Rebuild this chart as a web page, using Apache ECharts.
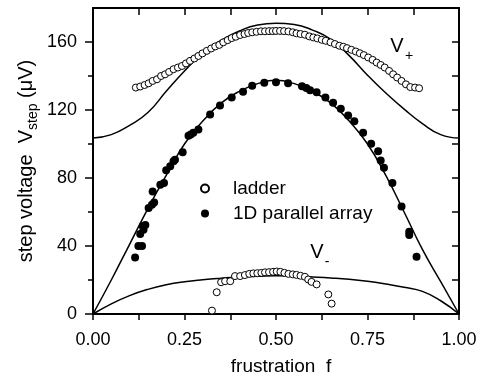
<!DOCTYPE html>
<html>
<head>
<meta charset="utf-8">
<script src="https://cdn.jsdelivr.net/npm/echarts@6.0.0/dist/echarts.min.js"></script>
<style>
  html, body { margin: 0; padding: 0; background: #fff; }
  #chart { width: 496px; height: 376px; }
</style>
</head>
<body>
<div id="chart"></div>
<script>
// 理论曲线的 f 取样点
const fTheory = [0, 0.05, 0.1, 0.15, 0.2, 0.25, 0.3, 0.35, 0.4, 0.45, 0.5,
  0.55, 0.6, 0.65, 0.7, 0.75, 0.8, 0.85, 0.9, 0.95, 1];
const vPlusTheory = [103.5, 105.5, 111, 118.5, 131, 143, 153.5, 161, 166.5, 170, 171,
  170.3, 167, 161.5, 152, 140.5, 130, 120.5, 112, 105.5, 103.5];
const vArrayTheory = [0, 20, 41, 62, 81.5, 100, 113.5, 124, 131, 135.5, 137.5,
  135.5, 131, 124, 113.5, 100, 81.5, 60, 38, 19, 0];
const vMinusTheory = [0, 6, 10.8, 14.5, 17.2, 19, 20.2, 21.1, 21.8, 22.2, 22.5,
  22.3, 21.8, 21.2, 20.4, 19.2, 17.6, 15.7, 13.3, 7.8, 0];

// ladder 测量点 (空心圆)
const ladderUpperF = [0.117, 0.129, 0.141, 0.152, 0.163, 0.175, 0.186, 0.197, 0.208, 0.220,
  0.232, 0.243, 0.254, 0.265, 0.277, 0.288, 0.299, 0.311, 0.323, 0.334, 0.345, 0.356,
  0.368, 0.379, 0.390, 0.402, 0.414, 0.424, 0.435, 0.447, 0.459, 0.470, 0.481, 0.491,
  0.500, 0.511, 0.522, 0.534, 0.546, 0.556, 0.567, 0.579, 0.591, 0.602, 0.613, 0.625,
  0.636, 0.649, 0.661, 0.673, 0.684, 0.694, 0.706, 0.718, 0.729, 0.740, 0.752, 0.764,
  0.775, 0.786, 0.797, 0.809, 0.820, 0.831, 0.843, 0.855, 0.867, 0.880, 0.891];
const ladderUpperV = [133.2, 133.8, 134.7, 135.7, 137.1, 138.1, 140.0, 141.0, 142.4, 144.0,
  145.0, 145.9, 147.4, 148.9, 150.3, 151.8, 153.3, 154.8, 156.2, 157.4, 158.3, 159.8,
  161.1, 162.3, 163.1, 164.1, 164.7, 165.3, 165.7, 166.0, 166.3, 166.3, 166.4, 166.4,
  166.5, 166.5, 166.4, 166.2, 165.7, 165.1, 164.7, 164.3, 163.3, 162.7, 162.1, 161.3,
  160.7, 159.8, 158.8, 157.8, 157.2, 156.4, 155.4, 154.4, 153.4, 152.3, 150.9, 149.5,
  147.9, 146.5, 145.0, 143.0, 141.0, 139.1, 137.1, 135.1, 133.5, 133.2, 132.8];
const ladderLowerF = [0.325, 0.338, 0.350, 0.361, 0.375, 0.388, 0.402, 0.415, 0.427, 0.438,
  0.449, 0.460, 0.470, 0.481, 0.492, 0.502, 0.512, 0.523, 0.534, 0.546, 0.556, 0.567,
  0.579, 0.588, 0.597, 0.611, 0.643, 0.652];
const ladderLowerV = [2.0, 12.8, 18.7, 19.3, 19.3, 22.3, 22.3, 22.9, 23.6, 23.9,
  24.0, 24.2, 24.5, 24.6, 24.8, 25.0, 24.8, 24.2, 23.6, 23.3, 23.0, 22.5,
  21.9, 20.3, 18.9, 17.4, 11.5, 6.1];

// 1D parallel array 测量点 (实心圆)
const arrayF = [0.115, 0.124, 0.134, 0.129, 0.138, 0.136, 0.143, 0.152, 0.161, 0.167,
  0.163, 0.184, 0.194, 0.200, 0.211, 0.220, 0.224, 0.245, 0.261, 0.267, 0.274, 0.288,
  0.320, 0.347, 0.379, 0.410, 0.435, 0.468, 0.500, 0.533, 0.571, 0.583, 0.593, 0.611,
  0.635, 0.656, 0.677, 0.697, 0.714, 0.738, 0.760, 0.779, 0.786, 0.795, 0.818, 0.843,
  0.864, 0.864, 0.884];
const arrayV = [33.3, 40.0, 40.0, 47.1, 49.5, 51.8, 52.4, 62.3, 64.2, 65.6,
  72.1, 76.0, 77.0, 84.5, 86.9, 89.8, 90.8, 95.1, 104.8, 105.6, 106.6, 108.5,
  117.4, 122.7, 127.3, 130.7, 134.3, 136.0, 136.3, 135.7, 134.0, 132.9, 131.6, 130.4,
  127.3, 124.3, 120.8, 116.8, 113.4, 106.6, 100.2, 95.7, 90.3, 86.1, 77.0, 63.2,
  48.4, 46.5, 33.7];

// 刻度
const xTicks = [0, 0.25, 0.5, 0.75, 1];
const yTicks = [0, 40, 80, 120, 160];
const yMinorTicks = [20, 60, 100, 140];

const FONT = "Liberation Sans";
const zip = (xs, ys) => xs.map((x, i) => [x, ys[i]]);

const chart = echarts.init(document.getElementById("chart"), null, { renderer: "canvas" });

const lineSeries = (data) => ({
  type: "line",
  data: data,
  smooth: true,
  showSymbol: false,
  silent: true,
  z: 1,
  lineStyle: { color: "#000", width: 1.5 },
});

const frameLine = { onZero: false, lineStyle: { color: "#000", width: 2 } };
const tickStyle = { color: "#000", width: 1.5 };
const textMark = (x, y, text, size) => ({
  type: "text",
  x: x,
  y: y,
  style: {
    text: text, font: `${size}px ${FONT}`, fill: "#000",
    align: "center", verticalAlign: "middle", textAlign: "center", textVerticalAlign: "middle",
  },
});

const option = {
  animation: false,
  backgroundColor: "#fff",
  grid: { left: 93, right: 37, top: 8, bottom: 62, outerBoundsMode: "none", containLabel: false },
  legend: {
    data: ["ladder", "1D parallel array"],
    orient: "vertical",
    left: 195,
    top: 174,
    itemWidth: 46,
    itemHeight: 8,
    itemGap: 6,
    selectedMode: false,
    textStyle: { fontSize: 19, color: "#000", fontFamily: FONT },
  },
  xAxis: [
    {
      type: "value",
      position: "bottom",
      min: 0,
      max: 1,
      interval: 0.25,
      axisLine: { show: true, ...frameLine },
      axisTick: { inside: false, length: 6, lineStyle: tickStyle },
      minorTick: { show: true, splitNumber: 2, length: 6, lineStyle: tickStyle },
      splitLine: { show: false },
      axisLabel: {
        customValues: xTicks,
        formatter: (v) => v.toFixed(2),
        fontSize: 18,
        color: "#000",
        fontFamily: FONT,
        margin: 17,
      },
      name: "frustration  f",
      nameLocation: "middle",
      nameGap: 43,
      nameMoveOverlap: false,
      nameTextStyle: { fontSize: 19, color: "#000", fontFamily: FONT, padding: [0, 0, 0, 10] },
    },
    {
      type: "value",
      position: "top",
      min: 0,
      max: 1,
      interval: 0.125,
      axisLine: { show: true, ...frameLine },
      axisTick: { inside: true, length: 7, lineStyle: tickStyle },
      axisLabel: { show: false },
      splitLine: { show: false },
    },
  ],
  yAxis: [
    {
      type: "value",
      position: "left",
      min: 0,
      max: 180,
      interval: 40,
      axisLine: { show: true, ...frameLine },
      axisTick: { show: true, customValues: yTicks, inside: false, length: 8, lineStyle: tickStyle },
      splitLine: { show: false },
      axisLabel: { customValues: yTicks, fontSize: 18, color: "#000", fontFamily: FONT, margin: 16 },
      name: "{t|step voltage  V}{s|step}{t| (μV)}",
      nameLocation: "middle",
      nameRotate: 90,
      nameGap: 53,
      nameMoveOverlap: false,
      nameTextStyle: {
        rich: {
          t: { fontSize: 20, fontFamily: FONT, color: "#000", lineHeight: 24, verticalAlign: "top" },
          s: { fontSize: 14, fontFamily: FONT, color: "#000", lineHeight: 14, verticalAlign: "bottom", padding: [18, 0, 0, 0] },
        },
      },
    },
    {
      type: "value",
      position: "right",
      min: 0,
      max: 180,
      interval: 20,
      axisLine: { show: true, ...frameLine },
      axisTick: { show: true, inside: true, length: 7, lineStyle: tickStyle },
      axisLabel: { show: false },
      splitLine: { show: false },
    },
    {
      // 左侧次刻度
      type: "value",
      position: "left",
      min: 0,
      max: 180,
      interval: 20,
      axisLine: { show: false, onZero: false },
      axisTick: { show: true, customValues: yMinorTicks, inside: false, length: 5, lineStyle: tickStyle },
      axisLabel: { show: false },
      splitLine: { show: false },
    },
  ],
  graphic: [
    textMark(397, 46, "V", 20),
    textMark(409, 56, "+", 14),
    textMark(317, 252, "V", 20),
    textMark(327, 262, "-", 14),
  ],
  series: [
    lineSeries(zip(fTheory, vPlusTheory)),
    lineSeries(zip(fTheory, vArrayTheory)),
    lineSeries(zip(fTheory, vMinusTheory)),
    {
      name: "ladder",
      type: "scatter",
      z: 3,
      symbol: "circle",
      symbolSize: 7,
      itemStyle: { color: "#fff", borderColor: "#000", borderWidth: 1, opacity: 1 },
      data: zip(ladderUpperF, ladderUpperV).concat(zip(ladderLowerF, ladderLowerV)),
    },
    {
      name: "1D parallel array",
      type: "scatter",
      z: 3,
      symbol: "circle",
      symbolSize: 8,
      itemStyle: { color: "#000", opacity: 1 },
      data: zip(arrayF, arrayV),
    },
  ],
};

chart.setOption(option);
</script>
</body>
</html>
